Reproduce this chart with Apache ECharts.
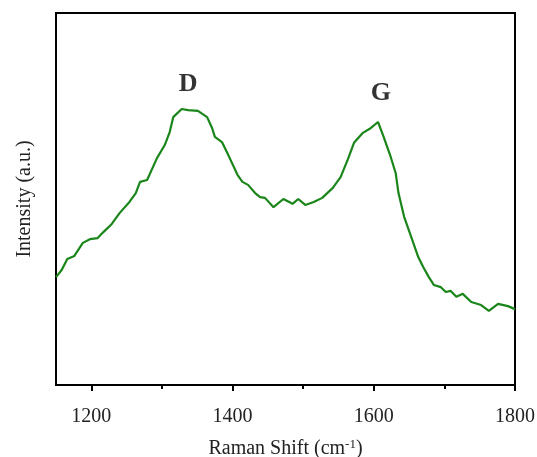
<!DOCTYPE html>
<html>
<head>
<meta charset="utf-8">
<script src="https://cdn.jsdelivr.net/npm/echarts@6/dist/echarts.min.js"></script>
<style>
  html, body { margin: 0; padding: 0; background: #fff; }
  #chart { width: 537px; height: 457px; }
</style>
</head>
<body>
<div id="chart"></div>
<script>
// Raman spectrum
var shift = [1150, 1158, 1166, 1176, 1188, 1198, 1209, 1216, 1229, 1240, 1254, 1263, 1269, 1279,
    1293, 1304, 1311, 1316, 1328, 1337, 1351, 1364, 1371, 1375, 1385, 1394, 1407, 1414, 1422,
    1432, 1439, 1446, 1458, 1472, 1485, 1493, 1503, 1515, 1527, 1542, 1553, 1563, 1572, 1584,
    1596, 1606, 1614, 1624, 1631, 1635, 1643, 1653, 1663, 1670, 1678, 1685, 1695, 1702, 1709,
    1717, 1726, 1738, 1752, 1763, 1776, 1790, 1800];
var intensity = [29.0, 30.9, 33.9, 34.7, 38.2, 39.2, 39.5, 40.9, 43.3, 46.2, 49.2, 51.6, 54.6, 55.1,
    61.0, 64.5, 68.0, 72.0, 74.2, 73.9, 73.7, 72.0, 69.1, 66.7, 65.3, 61.8, 56.5, 54.6, 53.8,
    51.6, 50.5, 50.3, 47.8, 50.0, 48.7, 50.0, 48.4, 49.2, 50.3, 53.0, 55.9, 60.5, 65.1, 67.7,
    69.1, 70.7, 66.7, 61.3, 57.0, 51.6, 45.2, 39.8, 34.4, 31.7, 29.0, 26.9, 26.3, 25.0, 25.3,
    23.7, 24.5, 22.3, 21.5, 19.9, 21.8, 21.2, 20.4];
var majorTicks = [1200, 1400, 1600, 1800];
var minorTicks = [1300, 1500, 1700];
var peakNames = ['D', 'G'];
var peakShift = [1337, 1610];
var peakHeight = [80.9, 78.5];

var chart = echarts.init(document.getElementById('chart'));

var lineData = [];
for (var i = 0; i < shift.length; i++) {
    lineData.push([shift[i], intensity[i]]);
}
var peakData = [];
for (var j = 0; j < peakNames.length; j++) {
    peakData.push({ name: peakNames[j], value: [peakShift[j], peakHeight[j]] });
}

var serif = '"Liberation Serif", "DejaVu Serif", serif';

var option = {
    backgroundColor: '#fff',
    animation: false,
    grid: {
        left: 56,
        top: 13,
        right: 22,
        bottom: 72,
        outerBoundsMode: 'none',
        show: true,
        borderColor: '#000',
        borderWidth: 2,
        backgroundColor: 'transparent'
    },
    xAxis: [{
        type: 'value',
        min: 1150,
        max: 1800,
        name: 'Raman Shift (cm{sup|-1})',
        nameLocation: 'middle',
        nameGap: 53,
        nameTextStyle: {
            fontFamily: serif,
            fontSize: 20,
            color: '#222',
            rich: {
                sup: { fontFamily: serif, fontSize: 13, verticalAlign: 'top', padding: [0, 0, 8, 0], color: '#222' }
            }
        },
        axisLine: { lineStyle: { color: '#000', width: 2 } },
        axisTick: { show: true, customValues: majorTicks, length: 6, lineStyle: { color: '#000', width: 2 } },
        axisLabel: {
            customValues: majorTicks,
            margin: 22,
            fontFamily: serif,
            fontSize: 20,
            color: '#222',
            formatter: function (v) { return String(v); }
        },
        splitLine: { show: false }
    }, {
        type: 'value',
        min: 1150,
        max: 1800,
        position: 'bottom',
        axisLine: { show: false },
        axisTick: { show: true, customValues: minorTicks, length: 4, lineStyle: { color: '#000', width: 2 } },
        axisLabel: { show: false },
        splitLine: { show: false }
    }],
    yAxis: {
        type: 'value',
        min: 0,
        max: 100,
        name: 'Intensity (a.u.)',
        nameLocation: 'middle',
        nameGap: 21,
        nameTextStyle: {
            fontFamily: serif,
            fontSize: 20,
            color: '#222'
        },
        axisLine: { show: true, lineStyle: { color: '#000', width: 2 } },
        axisTick: { show: false },
        axisLabel: { show: false },
        splitLine: { show: false }
    },
    series: [{
        type: 'line',
        data: lineData,
        symbol: 'none',
        smooth: false,
        lineStyle: { color: '#1a861a', width: 2.2 },
        z: 3
    }, {
        type: 'scatter',
        data: peakData,
        symbolSize: 1,
        itemStyle: { color: 'transparent' },
        label: {
            show: true,
            position: 'inside',
            formatter: '{b}',
            fontFamily: serif,
            fontWeight: 'bold',
            fontSize: 26,
            color: '#000'
        },
        silent: true
    }]
};
chart.setOption(option);
</script>
</body>
</html>
